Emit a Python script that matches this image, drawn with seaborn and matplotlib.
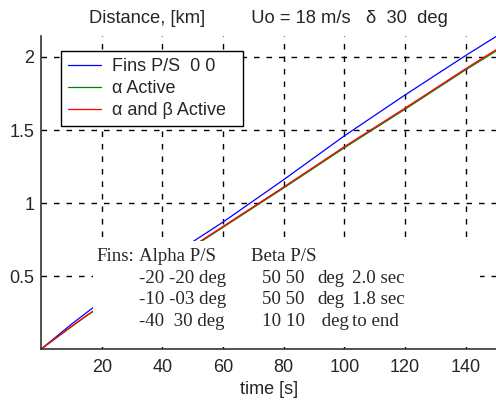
import numpy as np
import pandas as pd
import matplotlib
matplotlib.use("Agg")
import matplotlib.pyplot as plt
import seaborn as sns
from matplotlib.patches import Rectangle

# distance vs time
t = [0, 5, 10, 15, 20, 40, 60, 80, 100, 120, 140, 150]
fins_00 = [0, 0.085, 0.17, 0.25, 0.33, 0.60, 0.87, 1.16, 1.46, 1.74, 2.01, 2.14]
alpha_active = [0, 0.077, 0.153, 0.228, 0.297, 0.565, 0.834, 1.103, 1.378, 1.642, 1.912, 2.04]
alpha_beta_active = [0, 0.078, 0.155, 0.23, 0.30, 0.57, 0.84, 1.11, 1.386, 1.65, 1.92, 2.05]

series_labels = ["Fins P/S  0 0", "\u03b1 Active", "\u03b1 and \u03b2 Active  "]
series_colors = ["#0000ff", "#008000", "#ff0000"]

xticks = [20, 40, 60, 80, 100, 120, 140]
yticks = [0.5, 1, 1.5, 2]

# fins table text
table_rows = [
    ["Fins:", "Alpha P/S", "", "Beta P/S", "", ""],
    ["", "-20 -20 deg", "", "50 50", "deg", "2.0 sec"],
    ["", "-10 -03 deg", "", "50 50", "deg", "1.8 sec"],
    ["", "-40  30 deg", "", "10 10", " deg", "to end"],
]

df = pd.DataFrame({"t": t, "Fins": fins_00, "a": alpha_active, "ab": alpha_beta_active})

sns.set_style("white")
plt.rcParams["font.family"] = ["Liberation Sans", "DejaVu Sans"]

fig = plt.figure(figsize=(4.96, 4.04), dpi=100)
ax = fig.add_axes([0.083, 0.136, 0.917, 0.775])

for col, lab, c in zip(["Fins", "a", "ab"], series_labels, series_colors):
    sns.lineplot(data=df, x="t", y=col, color=c, label=lab, linewidth=0.9, ax=ax, zorder=2)

ax.set_xlim(0, 150)
ax.set_ylim(0, 2.144)
ax.set_xticks(xticks)
ax.set_yticks(yticks)
ax.set_xticklabels([str(v) for v in xticks])
ax.set_yticklabels(["0.5", "1", "1.5", "2"])
ax.tick_params(direction="in", length=5, width=1, labelsize=13, color="black")
ax.tick_params(axis="x", pad=7)
ax.tick_params(axis="y", pad=5)

# dashed grid drawn by hand so the white table box can hide it
for xv in xticks:
    ax.axvline(xv, color="black", linestyle=(0, (4, 5)), linewidth=1, zorder=1)
for yv in yticks:
    ax.axhline(yv, color="black", linestyle=(0, (4, 5)), linewidth=1, zorder=1)
ax.set_axisbelow(False)

for s in ["top", "right"]:
    ax.spines[s].set_visible(False)
for s in ["left", "bottom"]:
    ax.spines[s].set_color("#333333")
    ax.spines[s].set_linewidth(1.2)

ax.set_xlabel("time [s]", fontsize=13, labelpad=4)
ax.set_ylabel("")
ax.set_title("Distance, [km]         Uo = 18 m/s   \u03b4  30  deg", fontsize=13.2, pad=9)

# white background behind the table text
ax.add_patch(Rectangle((0.114, 0.005), 0.851, 0.34, transform=ax.transAxes,
                       facecolor="white", edgecolor="none", zorder=2.3))

col_x = [18.1, 32.4, 0, 72.9, 91.0, 102.6]
row_y = [0.637, 0.486, 0.336, 0.188]
for r, row in enumerate(table_rows):
    for c, txt in enumerate(row):
        if txt == "":
            continue
        x = col_x[c]
        if r == 0 and c == 3:
            x = 69.3
        ax.text(x, row_y[r], txt, family="Liberation Serif", fontsize=13.6,
                va="center", ha="left", zorder=3)

leg = ax.legend(loc="upper left", bbox_to_anchor=(0.044, 0.953), borderaxespad=0,
                fontsize=13, handlelength=1.8, handletextpad=0.6,
                labelspacing=0.28, fancybox=False, framealpha=1,
                edgecolor="black", borderpad=0.4)
leg.get_frame().set_linewidth(1.0)
leg.set_zorder(4)

fig.savefig("out.png", dpi=100)
